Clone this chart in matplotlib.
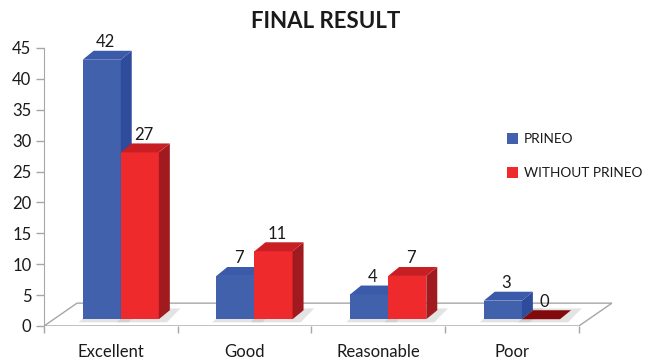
import numpy as np
import matplotlib
matplotlib.use("Agg")
import matplotlib.pyplot as plt
from matplotlib.patches import Polygon, Patch

plt.rcParams["font.family"] = ["Lato", "DejaVu Sans"]

categories = ["Excellent", "Good", "Reasonable", "Poor"]
prineo = [42, 7, 4, 3]
without_prineo = [27, 11, 7, 0]
series_names = ["PRINEO", "WITHOUT PRINEO"]
y_ticks = list(range(0, 50, 5))

# faces of the fake 3-D bars
BLUE = ("#4161ad", "#2f4b9c", "#3b5aa9")     # front, side, top
RED = ("#ee2a2c", "#a11a1f", "#c81f25")
RED_FLAT = "#820a0c"
TEXT = "#1a1a1a"

WIDTH = 0.285        # bar width in category units
SHIFT_X = 0.074      # bars sit half-way back on the floor
BASE = 1.1           # lift of the bar bottoms (value units)
DX, DY = 0.082, 1.45  # bar depth offset
FX, FY = 0.247, 3.7   # floor depth offset


def add_poly(ax, pts, color, z, **kw):
    ax.add_patch(Polygon(pts, closed=True, facecolor=color, edgecolor="none",
                         zorder=z, **kw))


fig = plt.figure(figsize=(6.51, 3.61), dpi=100)
ax = fig.add_axes([44 / 651, 35 / 361, 575 / 651, 278 / 361])
n = len(categories)
ax.set_xlim(0, 4.3)
ax.set_ylim(0, 45)

# floor
ax.add_patch(Polygon([(0, 0), (n, 0), (n + FX, FY), (FX, FY)], closed=True,
                     facecolor="white", edgecolor="#a6a6a6", lw=1.0, zorder=1))

centers = np.arange(n) + 0.5 + SHIFT_X
z = 3
for i in range(n):
    for vals, cols, off in [(prineo, BLUE, -WIDTH / 2), (without_prineo, RED, WIDTH / 2)]:
        v = vals[i]
        x0 = centers[i] + off - WIDTH / 2
        x1 = x0 + WIDTH
        # soft shadow on the floor
        add_poly(ax, [(x0 - 0.03, BASE - 0.5), (x1 + 0.06, BASE - 0.5),
                      (x1 + DX + 0.08, BASE + DY + 0.3), (x0 + DX, BASE + DY + 0.3)],
                 "#b0b0b0", 2, alpha=0.35)
        top = v + BASE
        if v > 0:
            ax.bar(x0, v, width=WIDTH, bottom=BASE, align="edge",
                   color=cols[0], zorder=z)
            add_poly(ax, [(x1, BASE), (x1 + DX, BASE + DY), (x1 + DX, top + DY),
                          (x1, top)], cols[1], z)
            add_poly(ax, [(x0, top), (x1, top), (x1 + DX, top + DY),
                          (x0 + DX, top + DY)], cols[2], z + 0.1)
        else:
            add_poly(ax, [(x0, top), (x1, top), (x1 + DX, top + DY),
                          (x0 + DX, top + DY)], RED_FLAT, z + 0.1)
        ax.text(x0 + WIDTH / 2 + DX / 3, top + DY + 0.1, str(v), ha="center",
                va="bottom", fontsize=12, color=TEXT, zorder=10)
        z += 1

# axes decoration
for s in ["top", "right", "bottom"]:
    ax.spines[s].set_visible(False)
ax.spines["left"].set_color("#a6a6a6")
ax.set_yticks(y_ticks)
ax.tick_params(axis="y", length=6, width=1, color="#a6a6a6", pad=3,
               labelsize=12, labelcolor=TEXT)
ax.set_xticks(np.arange(n) + 0.5)
ax.set_xticklabels(categories)
ax.set_xticks(np.arange(n + 1), minor=True)
ax.tick_params(axis="x", which="major", length=0, pad=13, labelsize=12,
               labelcolor=TEXT)
ax.tick_params(axis="x", which="minor", length=5, width=1, color="#a6a6a6")

fig.text(0.5, 1 - 21 / 361, "FINAL RESULT", ha="center", va="center",
         fontsize=16, fontweight="bold", color=TEXT)

handles = [Patch(facecolor=BLUE[0], label=series_names[0]),
           Patch(facecolor=RED[0], label=series_names[1])]
fig.legend(handles=handles, loc="upper left",
           bbox_to_anchor=(495 / 651, 1 - 121 / 361), frameon=False,
           handlelength=0.8, handleheight=0.8, handletextpad=0.4,
           labelspacing=1.6, fontsize=9.8, labelcolor=TEXT)

fig.savefig("out.png", dpi=100)
